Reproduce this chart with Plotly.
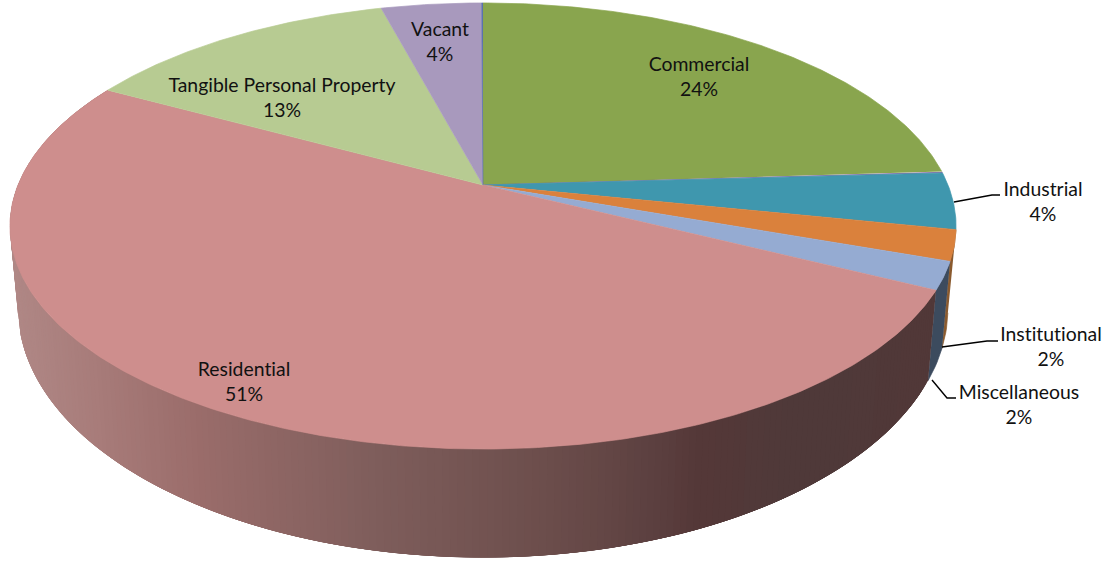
import numpy as np
import plotly.graph_objects as go

# ---- data -------------------------------------------------------------
slice_names = ["Commercial", "", "Industrial", "Institutional", "Miscellaneous",
               "Residential", "Tangible Personal Property", "Vacant", ""]
slice_values = [24.0, 0.1, 4.1, 2.2, 2.0, 50.55, 12.9, 4.1, 0.05]

# ---- styles -----------------------------------------------------------
top_colors = ["#89A54E", "#7D5FA0", "#3F97AE", "#DA813C", "#95ABD2",
              "#CE8E8D", "#B7CB92", "#A899BD", "#5B72AD"]
wall_flat = {"Institutional": "#8A5A2E", "Miscellaneous": "#3C4B5E"}
wall_x = [15, 100, 200, 380, 560, 660, 700, 800, 950]
wall_rgb = [(176, 136, 134), (168, 124, 122), (155, 109, 107), (127, 94, 92),
            (107, 77, 75), (92, 64, 64), (85, 56, 56), (79, 58, 58), (82, 56, 56)]
label_pos = {"Commercial": (699, 79), "Industrial": (1043, 204), "Institutional": (1051, 349),
             "Miscellaneous": (1019, 407), "Residential": (244, 384),
             "Tangible Personal Property": (282, 100), "Vacant": (440, 44)}
leaders = [[(954, 202), (992, 195), (1000, 195)],
           [(942, 347), (987, 341), (998, 341)],
           [(932, 380), (947, 398), (956, 398)]]
FONT = dict(family="Lato", size=19.4, color="#111111")

# perspective disc parameters: centre x, apex y, vertical scale, horizontal scale, tilt
TOP = (483.0, 185.0, 215.5, 465.0, 0.1838)
BOT = (483.0, 263.0, 240.4, 457.0, 0.1838)


def project(theta, disc):
    cx, ay, A, C, p = disc
    u, v = np.sin(theta), np.cos(theta)
    d = 1 + p * v
    return cx + C * u / d, ay - A * v / d


edges = np.concatenate([[0], np.cumsum(slice_values)]) / sum(slice_values) * 2 * np.pi
fig = go.Figure()


def poly(xs, ys, color, width=0.7):
    fig.add_trace(go.Scatter(x=list(xs), y=list(ys), mode="lines", fill="toself",
                             fillcolor=color, line=dict(color=color, width=width),
                             hoverinfo="skip", showlegend=False))


# side wall: drawn first, the top surface covers its back part
for i, name in enumerate(slice_names):
    if name in wall_flat:
        t = np.linspace(edges[i], edges[i + 1], 8)
        xt, yt = project(t, TOP)
        xb, yb = project(t, BOT)
        poly(np.r_[xt, xb[::-1]], np.r_[yt, yb[::-1]], wall_flat[name])
    elif name == "Residential":
        t = np.linspace(edges[i], edges[i + 1], 241)
        for j in range(len(t) - 1):
            # each strip overlaps the next, and strips are painted in order: no seams
            q = np.linspace(t[j], t[min(j + 5, len(t) - 1)], 6)
            xt, yt = project(q, TOP)
            xb, yb = project(q, BOT)
            xm = (xt[0] + xb[0]) / 2
            rgb = [np.interp(xm, wall_x, [c[k] for c in wall_rgb]) for k in range(3)]
            poly(np.r_[xt, xb[::-1]], np.r_[yt, yb[::-1]],
                 "rgb(%d,%d,%d)" % tuple(rgb), width=0)

# top surface
for i in range(len(slice_values)):
    t = np.linspace(edges[i], edges[i + 1], max(3, int(slice_values[i] * 6)))
    x, y = project(t, TOP)
    poly(np.r_[TOP[0], x], np.r_[TOP[1], y], top_colors[i])

# leader lines
for pts in leaders:
    fig.add_trace(go.Scatter(x=[p[0] for p in pts], y=[p[1] for p in pts], mode="lines",
                             line=dict(color="#000000", width=1.4),
                             hoverinfo="skip", showlegend=False))

# labels
names = [n for n in slice_names if n]
vals = [v for n, v in zip(slice_names, slice_values) if n]
fig.add_trace(go.Scatter(x=[label_pos[n][0] for n in names],
                         y=[label_pos[n][1] for n in names],
                         text=[f"{n}<br>{round(v)}%" for n, v in zip(names, vals)],
                         mode="text", textposition="middle center", textfont=FONT,
                         hoverinfo="skip", showlegend=False))

fig.update_layout(width=1114, height=561, margin=dict(l=0, r=0, t=0, b=0),
                  paper_bgcolor="white", plot_bgcolor="white", showlegend=False,
                  xaxis=dict(range=[0, 1114], visible=False, fixedrange=True),
                  yaxis=dict(range=[561, 0], visible=False, fixedrange=True))
post = ("document.body.style.margin='0';"
        "var s=document.createElement('style');"
        "s.textContent='svg text{font-variant-ligatures:none !important;}';"
        "document.head.appendChild(s);")
fig.write_html("out.html", post_script=post, config={"displayModeBar": False})
